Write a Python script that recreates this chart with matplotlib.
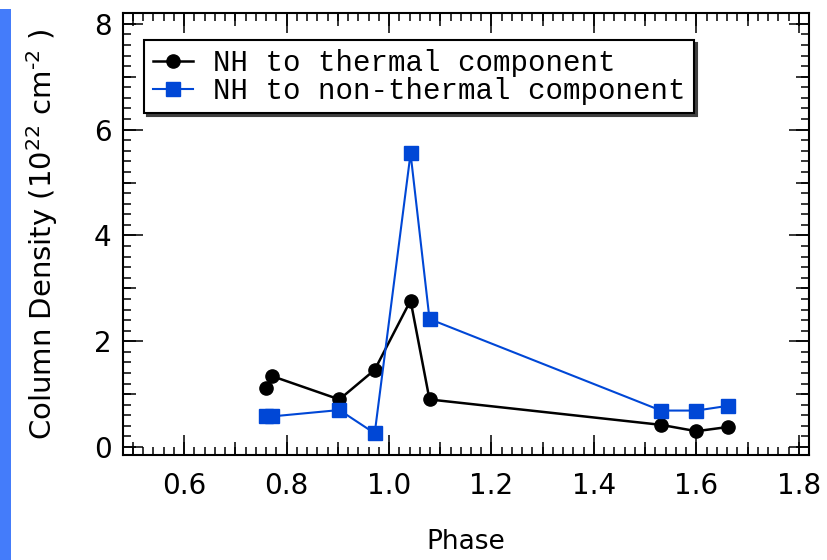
import matplotlib
matplotlib.use('Agg')
import matplotlib.pyplot as plt
from matplotlib.patches import Rectangle
from matplotlib.ticker import MultipleLocator

# Orbital phase of each observation
phase = [0.760, 0.772, 0.903, 0.972, 1.042, 1.079, 1.531, 1.600, 1.662]

# Column densities (units of 1e22 cm^-2)
nh_thermal = [1.11, 1.34, 0.90, 1.46, 2.77, 0.90, 0.42, 0.30, 0.38]
nh_nonthermal = [0.58, 0.58, 0.70, 0.26, 5.55, 2.42, 0.69, 0.69, 0.78]

labels = ['NH to thermal component', 'NH to non-thermal component']

BLUE = '#0047d6'

fig = plt.figure(figsize=(8.28, 5.6), dpi=100)

# blue strip along the left edge
fig.patches.append(Rectangle((0, 0), 11 / 828, 551 / 560, transform=fig.transFigure,
                             facecolor='#447cfa', edgecolor='none'))

ax = fig.add_axes([0.1482, 0.1875, 0.8289, 0.7888])

ax.plot(phase, nh_thermal, color='black', linewidth=1.8, marker='o', markersize=9.5,
        label=labels[0], zorder=3)
ax.plot(phase, nh_nonthermal, color=BLUE, linewidth=1.5, marker='s', markersize=10.5,
        label=labels[1], zorder=4)

ax.set_xlim(0.48, 1.82)
ax.set_ylim(-0.15, 8.2)

for sp in ax.spines.values():
    sp.set_linewidth(1.5)

# ticks on all four sides, pointing inward
ax.xaxis.set_major_locator(MultipleLocator(0.2))
ax.xaxis.set_minor_locator(MultipleLocator(0.02))
ax.yaxis.set_major_locator(MultipleLocator(2))
ax.yaxis.set_minor_locator(MultipleLocator(0.2))
ax.tick_params(which='both', direction='in', top=True, right=True, width=1.1)
ax.tick_params(which='major', length=14.4, labelsize=20)
ax.tick_params(which='minor', length=5.8)
ax.tick_params(axis='x', which='major', pad=12)
ax.tick_params(axis='y', which='major', pad=8)

# intermediate-length ticks at 0.1 (x) and 1 (y)
for side in ('bottom', 'top'):
    sec = ax.secondary_xaxis(side)
    sec.xaxis.set_major_locator(MultipleLocator(0.1))
    sec.tick_params(direction='in', length=9.5, width=1.1,
                    labelbottom=False, labeltop=False)
    for sp in sec.spines.values():
        sp.set_visible(False)
for side in ('left', 'right'):
    sec = ax.secondary_yaxis(side)
    sec.yaxis.set_major_locator(MultipleLocator(1))
    sec.tick_params(direction='in', length=9.5, width=1.1,
                    labelleft=False, labelright=False)
    for sp in sec.spines.values():
        sp.set_visible(False)

ax.set_xlabel('Phase', fontsize=19)
ax.set_ylabel(r'Column Density (10$^{22}$ cm$^{\text{-2}}$ )', fontsize=21)
ax.xaxis.set_label_coords(0.5, -0.168)
ax.yaxis.set_label_coords(-0.092, 0.5)

leg = ax.legend(loc='upper left', bbox_to_anchor=(0.031, 0.9395), borderaxespad=0,
                prop={'family': 'Liberation Mono', 'size': 21},
                frameon=True, fancybox=False, framealpha=1, edgecolor='black',
                shadow={'color': '0.25', 'alpha': 1},
                handlelength=1.38, handletextpad=0.69, borderpad=0.3,
                labelspacing=0.0)
leg.get_frame().set_linewidth(1.5)

fig.savefig('out.png', dpi=100)
